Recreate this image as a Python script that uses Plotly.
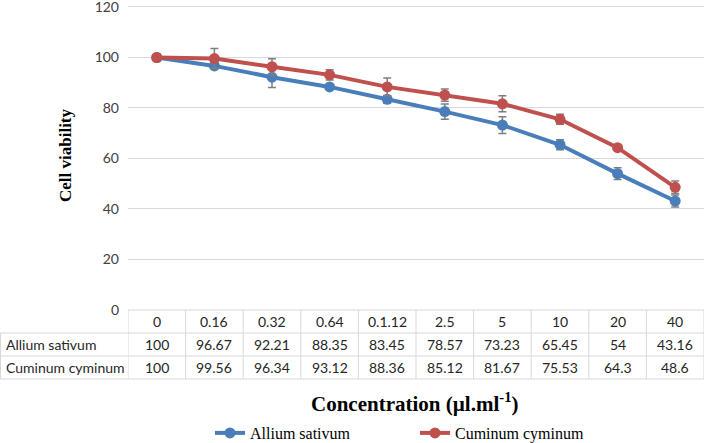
import plotly.graph_objects as go

concentrations = ["0", "0.16", "0.32", "0.64", "0.1.12", "2.5", "5", "10", "20", "40"]
allium = [100, 96.67, 92.21, 88.35, 83.45, 78.57, 73.23, 65.45, 54, 43.16]
cuminum = [100, 99.56, 96.34, 93.12, 88.36, 85.12, 81.67, 75.53, 64.3, 48.6]
allium_err = [0, 1.0, 4.1, 1.0, 1.5, 3.0, 3.3, 2.0, 2.3, 2.4]
cuminum_err = [0, 4.0, 3.2, 2.0, 3.5, 2.4, 3.2, 2.0, 1.0, 2.5]
y_ticks = [0, 20, 40, 60, 80, 100, 120]

W, H = 709, 443
BLUE = "#4A7EBB"
RED = "#C0504D"
GRID = "#D9D9D9"
TXT = "#262626"

def py(px):
    return 1 - px / H

def pxx(px):
    return px / W

x_idx = list(range(len(concentrations)))

fig = go.Figure()
fig.add_trace(go.Scatter(
    x=x_idx, y=allium, name="Allium sativum", mode="lines+markers",
    line=dict(color=BLUE, width=4), marker=dict(size=11, color=BLUE),
    error_y=dict(type="data", array=allium_err, color="#7F7F7F", thickness=1.5, width=4),
))
fig.add_trace(go.Scatter(
    x=x_idx, y=cuminum, name="Cuminum cyminum", mode="lines+markers",
    line=dict(color=RED, width=4), marker=dict(size=11, color=RED),
    error_y=dict(type="data", array=cuminum_err, color="#7F7F7F", thickness=1.5, width=4),
))

zero_px = 310
px_per_unit = (310 - 7) / 120.0
ymax = 121
top_px = zero_px - ymax * px_per_unit
fig.update_layout(
    width=W, height=H,
    margin=dict(l=0, r=0, t=0, b=0, autoexpand=False),
    paper_bgcolor="white", plot_bgcolor="white",
    showlegend=True,
    legend=dict(orientation="h", x=pxx(210), xanchor="left", y=py(433), yanchor="middle",
                font=dict(family="Liberation Serif", size=16, color="black"),
                entrywidth=160, entrywidthmode="pixels", bgcolor="rgba(0,0,0,0)"),
    xaxis=dict(domain=[pxx(128), pxx(704)], range=[-0.5, len(concentrations) - 0.5],
               showgrid=False, showticklabels=False, zeroline=False, showline=False, fixedrange=True),
    yaxis=dict(domain=[py(zero_px), py(top_px)], range=[0, ymax], tickvals=y_ticks,
               showgrid=True, gridcolor=GRID, gridwidth=1, zeroline=False, showline=False,
               ticks="", ticklabelstandoff=8, ticklabeloverflow="allow",
               tickfont=dict(family="Lato", size=14, color="#404040")),
)

row_top = [310, 333, 356]
row_bot = [333, 356, 379]
shapes = []
shapes.append(dict(type="line", xref="x", yref="paper", x0=-0.5, x1=len(concentrations) - 0.5,
                   y0=py(310), y1=py(310), line=dict(color=GRID, width=1)))
for yy in [333, 356, 379]:
    shapes.append(dict(type="line", xref="paper", yref="paper", x0=pxx(0.5), x1=pxx(704),
                       y0=py(yy), y1=py(yy), line=dict(color=GRID, width=1)))
for i in range(len(concentrations) + 1):
    shapes.append(dict(type="line", xref="x", yref="paper", x0=i - 0.5, x1=i - 0.5,
                       y0=py(310), y1=py(379), line=dict(color=GRID, width=1)))
shapes.append(dict(type="line", xref="paper", yref="paper", x0=pxx(0.5), x1=pxx(0.5),
                   y0=py(333), y1=py(379), line=dict(color=GRID, width=1)))
fig.update_layout(shapes=shapes)

ann = []
tfont = dict(family="Lato", size=14, color=TXT)
rows = [concentrations, [f"{v:g}" for v in allium], [f"{v:g}" for v in cuminum]]
for r, vals in enumerate(rows):
    yc = (row_top[r] + row_bot[r]) / 2
    for i, v in enumerate(vals):
        ann.append(dict(x=i, y=py(yc), xref="x", yref="paper", text=v, showarrow=False,
                        xanchor="center", yanchor="middle", font=tfont))
for r, label in [(1, "Allium sativum"), (2, "Cuminum cyminum")]:
    yc = (row_top[r] + row_bot[r]) / 2
    ann.append(dict(x=pxx(4), y=py(yc), xref="paper", yref="paper", text=label, showarrow=False,
                    xanchor="left", yanchor="middle", font=tfont))

ann.append(dict(x=pxx(415), y=py(402), xref="paper", yref="paper",
                text="<b>Concentration (µl.ml<sup>-1</sup>)</b>", showarrow=False,
                xanchor="center", yanchor="middle",
                font=dict(family="Liberation Serif", size=21, color="black")))
ann.append(dict(x=pxx(65), y=py(155), xref="paper", yref="paper",
                text="<b>Cell viability</b>", showarrow=False, textangle=-90,
                xanchor="center", yanchor="middle",
                font=dict(family="Liberation Serif", size=17, color="black")))
fig.update_layout(annotations=ann)

fig.write_html("out.html", config={"displayModeBar": False},
               post_script="document.body.style.margin='0px';document.body.style.padding='0px';")
